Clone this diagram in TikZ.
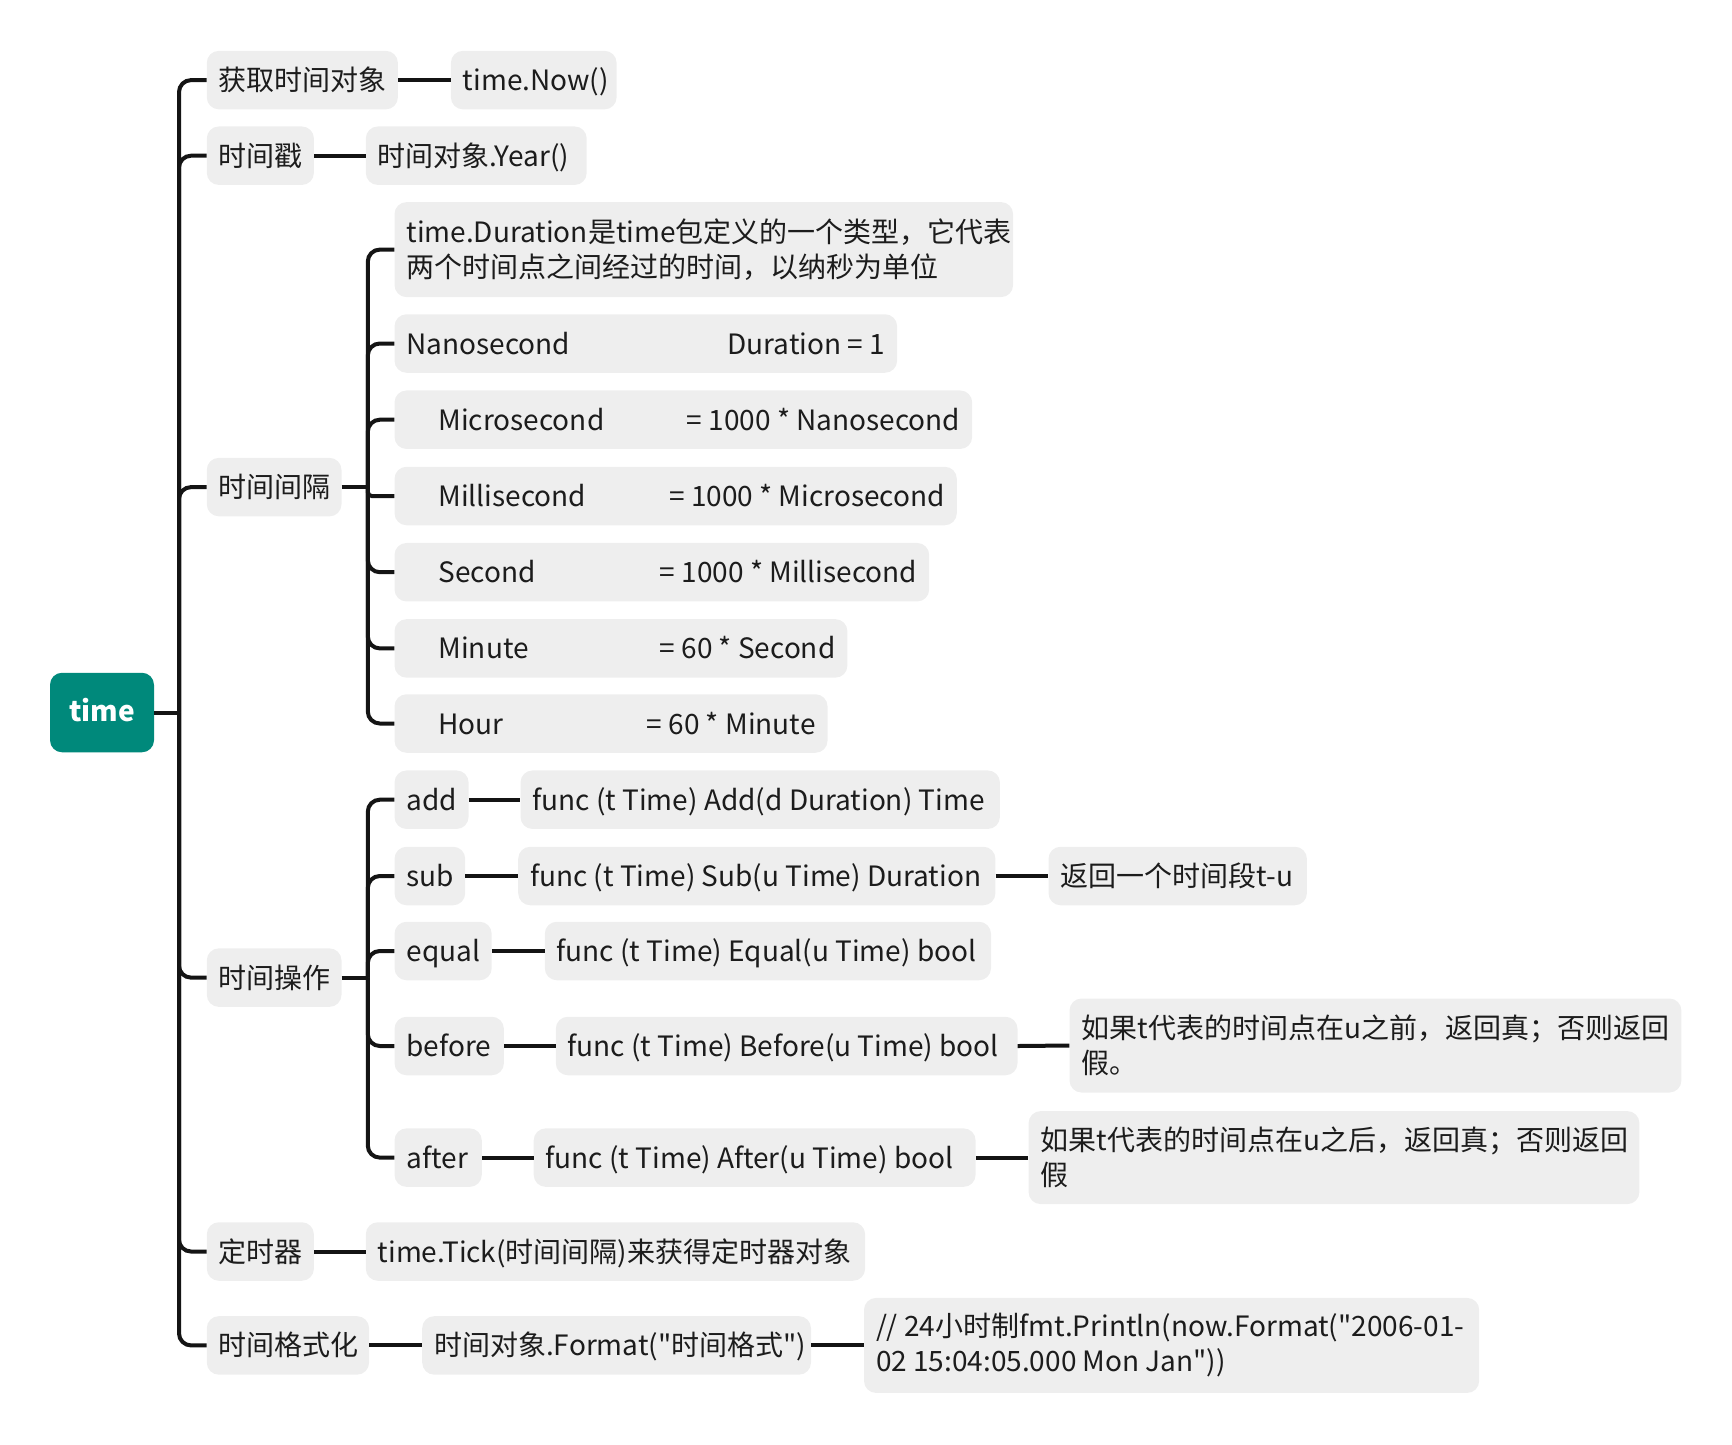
\documentclass[tikz,border=0pt]{standalone}
\usepackage{fontspec}
\setmainfont{Noto Sans CJK SC}[Ligatures=TeXOff]
\definecolor{rootcol}{RGB}{0,137,123}
\definecolor{nodebg}{RGB}{238,238,238}
\definecolor{txt}{RGB}{28,28,28}
\newcommand\bx[2]{\makebox[\dimexpr#1pt-24pt\relax][l]{#2}}
\tikzset{
  box/.style={fill=nodebg, rounded corners=12pt, anchor=west, inner xsep=12pt, inner ysep=0pt,
    minimum height=58.5pt, text=txt, font=\fontsize{28}{35}\selectfont},
  one/.style={text height=24.5pt, text depth=3.5pt},
  two/.style={align=left, minimum height=#1},
  rootbox/.style={fill=rootcol, rounded corners=12pt, minimum width=104pt, minimum height=79.5pt,
    text=white, font=\fontsize{28}{35}\selectfont\bfseries, text height=21pt, text depth=3pt},
  conn/.style={line width=4pt, draw=black!92, rounded corners=12pt},
}
\begin{document}
\begin{tikzpicture}[x=1pt,y=-1pt]
\useasboundingbox (0,0) rectangle (1732,1444);
% root
\node[rootbox] (time) at (102,712.5) {time};
% level 1
\node[box,one] (g1) at (206.6,80.1) {\bx{191.1}{获取时间对象}};
\node[box,one] (g2) at (206.6,155.7) {\bx{107.1}{时间戳}};
\node[box,one] (g3) at (206.6,487.1) {\bx{134.7}{时间间隔}};
\node[box,one] (g4) at (206.6,977.6) {\bx{134.7}{时间操作}};
\node[box,one] (g5) at (206.6,1251.5) {\bx{107.1}{定时器}};
\node[box,one] (g6) at (206.6,1345.4) {\bx{162.3}{时间格式化}};
% level 2
\node[box,one] (n1) at (450.7,80.1) {\bx{165.7}{time.Now()}};
\node[box,one] (n2) at (365.6,155.7) {\bx{220.9}{时间对象.Year()}};
\node[box,two=95pt] (d0) at (394.3,249.6) {\bx{618.6}{time.Duration是time包定义的一个类型，它代表}\\两个时间点之间经过的时间，以纳秒为单位};
\node[box,one] (d1) at (394.3,343.5) {\bx{502.6}{Nanosecond\hfill Duration = 1}};
\node[box,one] (d2) at (394.3,419.7) {\bx{577.7}{\hspace*{32pt}Microsecond\hfill = 1000 * Nanosecond}};
\node[box,one] (d3) at (394.3,496.0) {\bx{562.3}{\hspace*{32pt}Millisecond\hfill = 1000 * Microsecond}};
\node[box,one] (d4) at (394.3,572.2) {\bx{534.7}{\hspace*{32pt}Second\hfill = 1000 * Millisecond}};
\node[box,one] (d5) at (394.3,648.4) {\bx{452.9}{\hspace*{32pt}Minute\hfill = 60 * Second}};
\node[box,one] (d6) at (394.3,723.5) {\bx{433.0}{\hspace*{32pt}Hour\hfill = 60 * Minute}};
% operations
\node[box,one] (o1) at (394.3,799.7) {\bx{74.1}{add}};
\node[box,one] (f1) at (520.3,799.7) {\bx{479.4}{func (t Time) Add(d Duration) Time}};
\node[box,one] (o2) at (394.3,876) {\bx{70.7}{sub}};
\node[box,one] (f2) at (518,876) {\bx{477.2}{func (t Time) Sub(u Time) Duration}};
\node[box,one] (r2) at (1048.3,876) {\bx{258.4}{返回一个时间段t-u}};
\node[box,one] (o3) at (394.3,951) {\bx{97.2}{equal}};
\node[box,one] (f3) at (544.6,951) {\bx{446.2}{func (t Time) Equal(u Time) bool}};
\node[box,one] (o4) at (394.3,1046) {\bx{109.4}{before}};
\node[box,one] (f4) at (555.6,1046) {\bx{461.7}{func (t Time) Before(u Time) bool}};
\node[box,two=94pt] (r4) at (1069.3,1045.5) {\bx{611.9}{如果t代表的时间点在u之前，返回真；否则返回}\\假。};
\node[box,one] (o5) at (394.3,1157.6) {\bx{87.3}{after}};
\node[box,one] (f5) at (533.5,1157.6) {\bx{441.9}{func (t Time) After(u Time) bool}};
\node[box,two=93pt] (r5) at (1028.4,1157.6) {\bx{610.8}{如果t代表的时间点在u之后，返回真；否则返回}\\假};
% timer, format
\node[box,one] (t1) at (365.6,1251.5) {\bx{499.3}{time.Tick(时间间隔)来获得定时器对象}};
\node[box,one] (m1) at (422,1345.4) {\bx{388.8}{时间对象.Format("时间格式")}};
\node[box,two=95pt] (m2) at (863.8,1345.4) {\bx{615.2}{// 24小时制fmt.Println(now.Format("2006-01-}\\02 15:04:05.000 Mon Jan"))};
% trunk points
\coordinate (tr1) at (179,712.5);
\coordinate (tr2) at (367.8,487.1);
\coordinate (tr3) at (367.8,977.6);
% connectors
\draw[conn] (time.east) -- (tr1);
\foreach \c in {g1,g2,g3,g4,g5,g6} \draw[conn] (tr1) |- (\c.west);
\draw[conn] (g3.east) -- (tr2);
\foreach \c in {d0,d1,d2,d4,d5,d6} \draw[conn] (tr2) |- (\c.west);
\draw[conn,rounded corners=4pt] (tr2) |- (d3.west);
\draw[conn] (g4.east) -- (tr3);
\foreach \c in {o1,o2,o3,o4,o5} \draw[conn] (tr3) |- (\c.west);
\draw[conn] (g1.east) -- (n1.west);
\draw[conn] (g2.east) -- (n2.west);
\draw[conn] (o1.east) -- (f1.west);
\draw[conn] (o2.east) -- (f2.west);
\draw[conn] (f2.east) -- (r2.west);
\draw[conn] (o3.east) -- (f3.west);
\draw[conn] (o4.east) -- (f4.west);
\draw[conn] (f4.east) -- (r4.west);
\draw[conn] (o5.east) -- (f5.west);
\draw[conn] (f5.east) -- (r5.west);
\draw[conn] (g5.east) -- (t1.west);
\draw[conn] (g6.east) -- (m1.west);
\draw[conn] (m1.east) -- (m2.west);
\end{tikzpicture}
\end{document}
